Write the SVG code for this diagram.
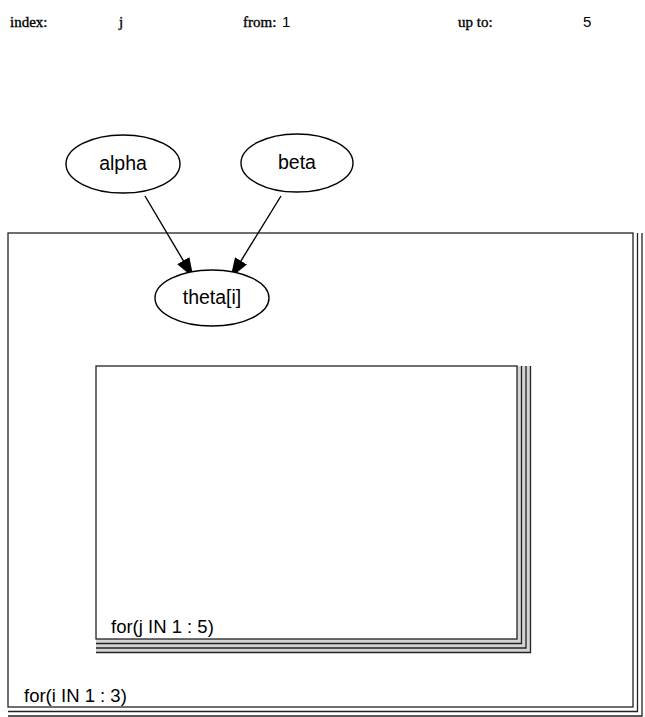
<svg xmlns="http://www.w3.org/2000/svg" width="645" height="717" viewBox="0 0 645 717">
<style>
.hdr{font-family:"Liberation Serif",serif;font-size:15px;fill:#000;stroke:#000;stroke-width:0.35}
.val{font-family:"Liberation Sans",sans-serif;font-size:15px;fill:#000}
.lbl{font-family:"Liberation Sans",sans-serif;font-size:19.5px;fill:#000;text-anchor:middle}
.plbl{font-family:"Liberation Sans",sans-serif;font-size:18.5px;fill:#000}
.node{fill:#fff;stroke:#000;stroke-width:1.4}
.plate{fill:none;stroke:#222;stroke-width:1.3}
.edge{stroke:#000;stroke-width:1.4;fill:none}
</style>
<defs>
<marker id="arr" markerWidth="20" markerHeight="14" refX="19" refY="7" orient="auto" markerUnits="userSpaceOnUse" viewBox="0 0 20 14">
<path d="M0,0 L20,7 L0,14 z" fill="#000"/>
</marker>
</defs>
<rect width="645" height="717" fill="#fff"/>
<g id="header">
<text class="hdr" x="10" y="27">index:</text>
<text class="hdr" x="119" y="27">j</text>
<text class="hdr" x="243" y="27">from:</text>
<text class="val" x="282" y="27">1</text>
<text class="hdr" x="458" y="27">up to:</text>
<text class="val" x="583" y="27">5</text>
</g>
<g id="plate-i">
<rect class="plate" x="8" y="233" width="625" height="474"/>
<polyline class="plate" points="8,711.5 637.5,711.5 637.5,233"/>
<polyline class="plate" points="8,716 642,716 642,233"/>
<text class="plbl" x="24" y="702">for(i IN 1 : 3)</text>
</g>
<g id="plate-j">
<path d="M96,639 H517 V366 H530.5 V652.5 H96 Z" fill="#d4d4d4" stroke="none"/>
<rect class="plate" x="96" y="366" width="421" height="273" fill="#fff"/>
<polyline class="plate" points="96,643.5 521.5,643.5 521.5,366"/>
<polyline class="plate" points="96,648 526,648 526,366"/>
<polyline class="plate" points="96,652.5 530.5,652.5 530.5,366"/>
<text class="plbl" x="111" y="633">for(j IN 1 : 5)</text>
</g>
<g id="edges">
<line class="edge" x1="145" y1="196" x2="193" y2="277" marker-end="url(#arr)"/>
<line class="edge" x1="281" y1="196" x2="231" y2="277" marker-end="url(#arr)"/>
</g>
<g id="node-alpha">
<ellipse class="node" cx="123" cy="164" rx="57" ry="29"/>
<text class="lbl" x="123" y="170">alpha</text>
</g>
<g id="node-beta">
<ellipse class="node" cx="297" cy="163" rx="56" ry="29"/>
<text class="lbl" x="297" y="169">beta</text>
</g>
<g id="node-theta">
<ellipse class="node" cx="212" cy="298" rx="57" ry="28"/>
<text class="lbl" x="212" y="304">theta[i]</text>
</g>
</svg>
